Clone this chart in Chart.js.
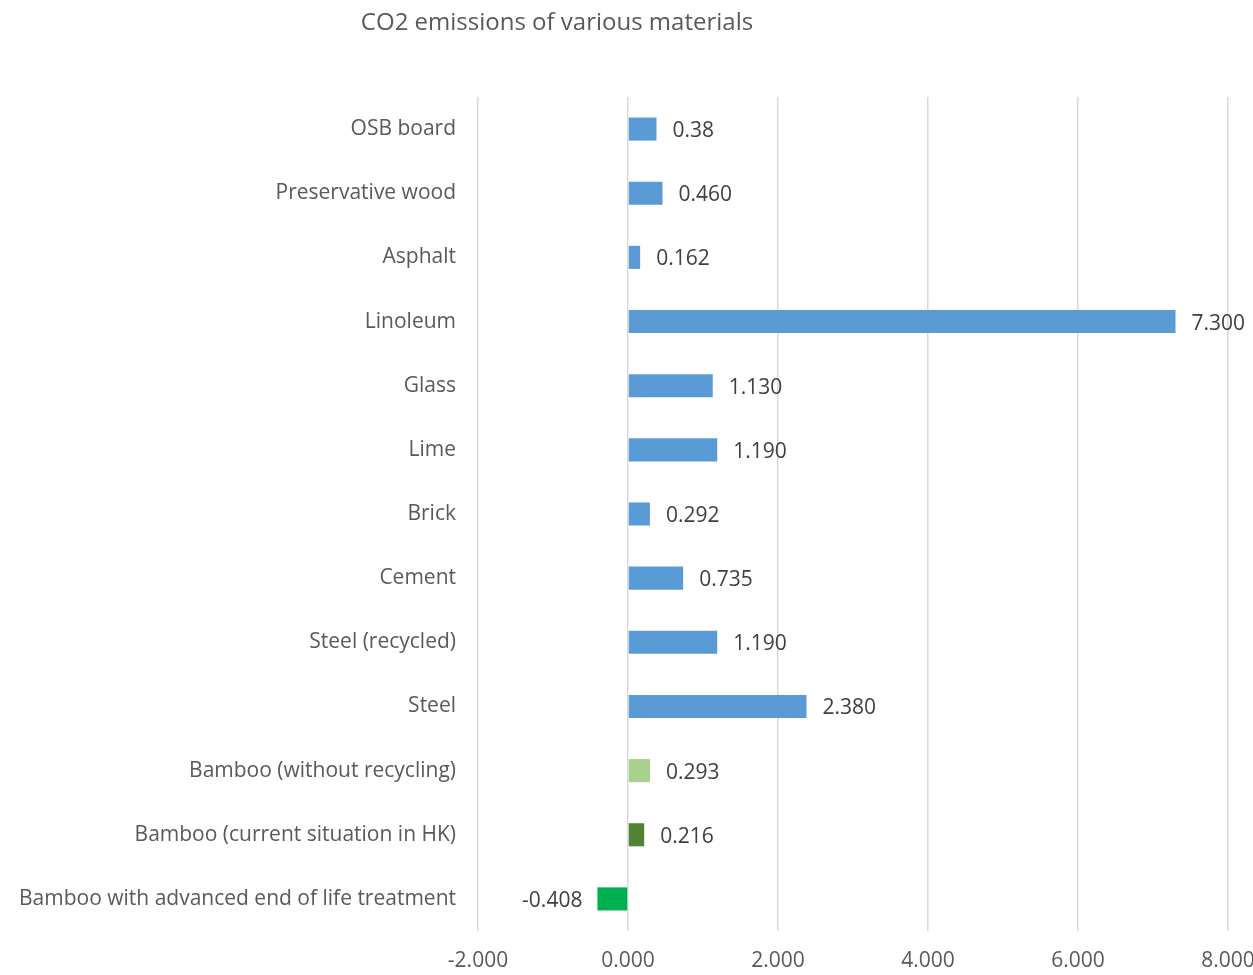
<!DOCTYPE html>
<html>
<head>
<meta charset="utf-8">
<script src="https://cdn.jsdelivr.net/npm/chart.js@4.4.1/dist/chart.umd.min.js"></script>
<style>
  html, body { margin: 0; padding: 0; background: #fff; }
  #wrap { width: 1253px; height: 975px; }
</style>
</head>
<body>
<div id="wrap"><canvas id="co2chart" width="1253" height="975"></canvas></div>
<script>
// materials, top to bottom
var materials = [
    "OSB board",
    "Preservative wood",
    "Asphalt",
    "Linoleum",
    "Glass",
    "Lime",
    "Brick",
    "Cement",
    "Steel (recycled)",
    "Steel",
    "Bamboo (without recycling)",
    "Bamboo (current situation in HK)",
    "Bamboo with advanced end of life treatment"
];
var emissions = [0.38, 0.46, 0.162, 7.3, 1.13, 1.19, 0.292, 0.735, 1.19, 2.38, 0.293, 0.216, -0.408];
var valueLabels = ["0.38", "0.460", "0.162", "7.300", "1.130", "1.190", "0.292", "0.735", "1.190", "2.380", "0.293", "0.216", "-0.408"];
var barColors = [
    "#5B9BD5", "#5B9BD5", "#5B9BD5", "#5B9BD5", "#5B9BD5", "#5B9BD5", "#5B9BD5",
    "#5B9BD5", "#5B9BD5", "#5B9BD5", "#A9D18E", "#548235", "#00B050"
];
var chartTitle = "CO2 emissions of various materials";

var FONT = "'Open Sans', sans-serif";

// draws the value next to each bar and the title
var valueLabelPlugin = {
    id: "valueLabels",
    afterDatasetsDraw: function (chart) {
        var ctx = chart.ctx;
        var meta = chart.getDatasetMeta(0);
        ctx.save();
        ctx.font = "21px " + FONT;
        ctx.fillStyle = "#404040";
        ctx.textBaseline = "middle";
        meta.data.forEach(function (bar, i) {
            if (emissions[i] >= 0) {
                ctx.textAlign = "left";
                ctx.fillText(valueLabels[i], bar.x + 16, bar.y + 2);
            } else {
                ctx.textAlign = "right";
                ctx.fillText(valueLabels[i], bar.x - 15, bar.y + 2);
            }
        });
        ctx.font = "24px " + FONT;
        ctx.fillStyle = "#595959";
        ctx.textAlign = "center";
        ctx.fillText(chartTitle, 557, 23);
        ctx.restore();
    }
};

var ctx = document.getElementById("co2chart").getContext("2d");
var myChart = new Chart(ctx, {
    type: "bar",
    data: {
        labels: materials,
        datasets: [
            {
                label: chartTitle,
                data: emissions,
                backgroundColor: barColors,
                borderWidth: 0,
                barPercentage: 0.36,
                categoryPercentage: 1.0
            }
        ]
    },
    options: {
        responsive: false,
        animation: false,
        indexAxis: "y",
        layout: {
            padding: { top: 97, right: 25, bottom: 0, left: 0 }
        },
        plugins: {
            legend: { display: false },
            title: { display: false },
            tooltip: { enabled: false }
        },
        scales: {
            x: {
                min: -2,
                max: 8,
                ticks: {
                    stepSize: 2,
                    color: "#595959",
                    font: { family: FONT, size: 21 },
                    padding: 17,
                    maxRotation: 0,
                    callback: function (value) {
                        return value.toFixed(3);
                    }
                },
                grid: {
                    color: "#d9d9d9",
                    lineWidth: 1.5,
                    drawTicks: false
                },
                border: { display: false },
                afterFit: function (scale) {
                    scale.height = 44;
                    scale.paddingLeft = 0;
                    scale.paddingRight = 0;
                }
            },
            y: {
                ticks: {
                    color: "#595959",
                    font: { family: FONT, size: 21 },
                    padding: 22
                },
                grid: { display: false, drawTicks: false },
                border: { display: false },
                afterFit: function (scale) {
                    scale.width = 478;
                }
            }
        }
    },
    plugins: [valueLabelPlugin]
});
</script>
</body>
</html>
